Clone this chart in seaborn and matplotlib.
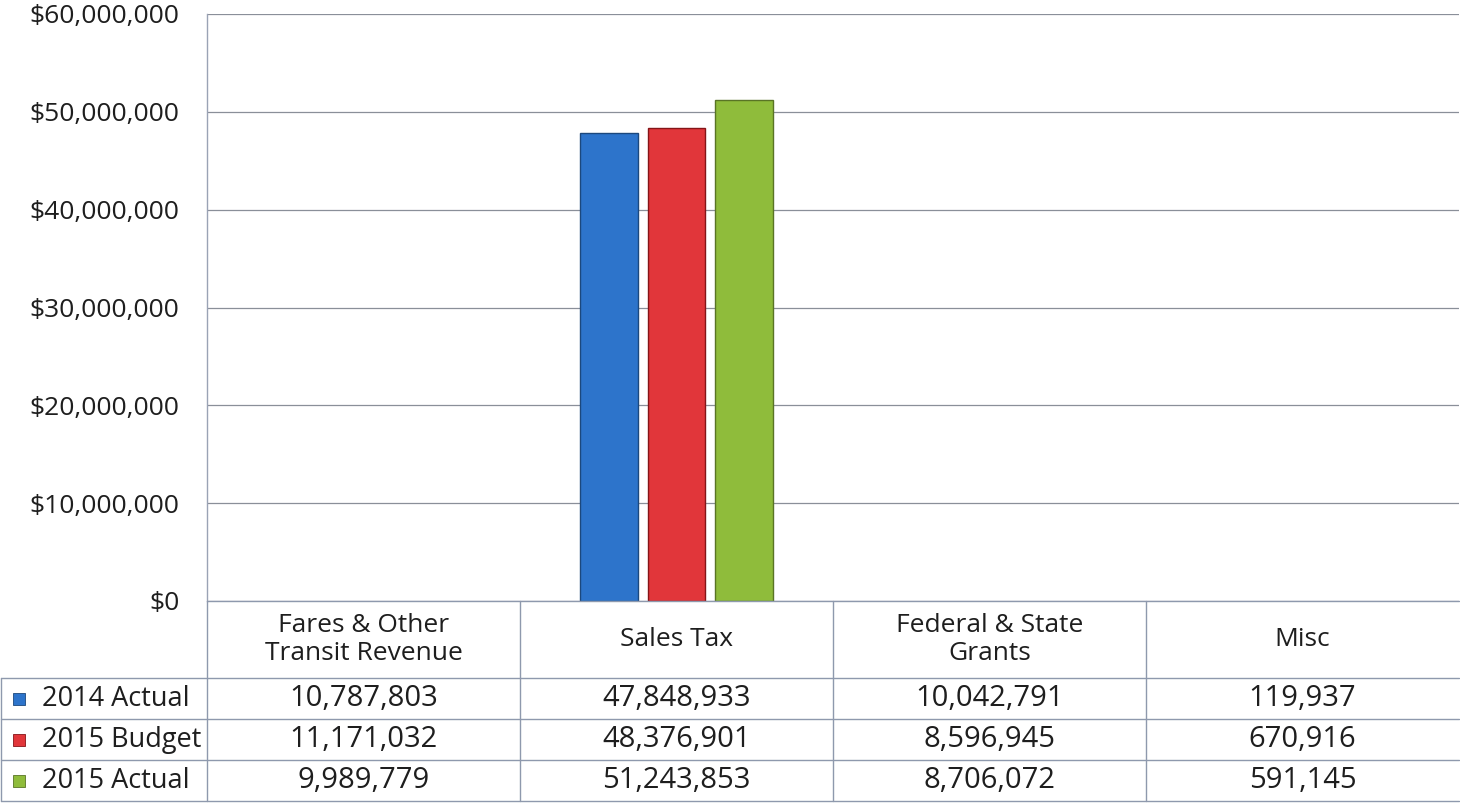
import matplotlib
matplotlib.use("Agg")
import matplotlib.pyplot as plt
import matplotlib.transforms as mtransforms
from matplotlib.lines import Line2D
from matplotlib.patches import Rectangle
import pandas as pd
import seaborn as sns

# Revenue sources and the three reporting series
categories = ["Fares & Other\nTransit Revenue", "Sales Tax", "Federal & State\nGrants", "Misc"]
series = ["2014 Actual", "2015 Budget", "2015 Actual"]
actual_2014 = [10787803, 47848933, 10042791, 119937]
budget_2015 = [11171032, 48376901, 8596945, 670916]
actual_2015 = [9989779, 51243853, 8706072, 591145]
charted_categories = ["Sales Tax"]
series_colors = ["#2D74CB", "#E1363A", "#8FBC3B"]
y_ticks = [0, 10000000, 20000000, 30000000, 40000000, 50000000, 60000000]

values = {"2014 Actual": actual_2014, "2015 Budget": budget_2015, "2015 Actual": actual_2015}
rows = []
for s in series:
    for c, v in zip(categories, values[s]):
        rows.append({"category": c, "series": s, "value": v})
df = pd.DataFrame(rows)
df_bars = df[df["category"].isin(charted_categories)]

sns.set_theme(style="white")
plt.rcParams["font.family"] = ["Open Sans", "DejaVu Sans"]
FS_TICK, FS_HEAD, FS_ROW, FS_NUM = 19, 19, 19.5, 21
TXT = "#1e1e1e"

W, H = 1460, 807
fig = plt.figure(figsize=(W / 100, H / 100), dpi=100)
top_px, zero_px, left_px, right_px = 14, 601, 207, 1459
ax = fig.add_axes([left_px / W, 1 - zero_px / H, (right_px - left_px) / W, (zero_px - top_px) / H])

sns.barplot(data=df_bars, x="category", y="value", hue="series", order=categories,
            hue_order=series, palette=series_colors, saturation=1, width=0.65, gap=0.15,
            legend=False, ax=ax, zorder=3)
for patch, col in zip(ax.patches, series_colors):
    patch.set_edgecolor(sns.set_hls_values(col, l=0.3))
    patch.set_linewidth(1.0)

ax.set_xlim(-0.5, len(categories) - 0.5)
ax.set_ylim(0, 60000000)
ax.set_yticks(y_ticks)
ax.set_yticklabels([f"${v:,.0f}" for v in y_ticks], fontsize=FS_TICK, color=TXT)
ax.tick_params(axis="y", length=0, pad=20)
ax.set_xticks([])
ax.set_xlabel("")
ax.set_ylabel("")
ax.yaxis.grid(True, color="#8a8f99", linewidth=0.9)
ax.set_axisbelow(True)
for side in ["top", "right", "bottom"]:
    ax.spines[side].set_visible(False)
ax.spines["left"].set_color("#9aa3b5")
ax.spines["left"].set_linewidth(1.0)

# Data table beneath the chart
line_col = "#8e99ad"
lw = 1.0
fy = lambda y: 1 - y / H
fx = lambda x: x / W
row_edges = [601, 678, 719, 760, 801]
blend = mtransforms.blended_transform_factory(ax.transData, fig.transFigure)

# horizontal rules
fig.add_artist(Line2D([fx(left_px), fx(right_px)], [fy(row_edges[0])] * 2, color=line_col, lw=lw))
for y in row_edges[1:]:
    fig.add_artist(Line2D([fx(1), fx(right_px)], [fy(y)] * 2, color=line_col, lw=lw))
# vertical rules
fig.add_artist(Line2D([fx(1), fx(1)], [fy(row_edges[1]), fy(row_edges[-1])], color=line_col, lw=lw))
for b in [i - 0.5 for i in range(len(categories))]:
    fig.add_artist(Line2D([b, b], [fy(row_edges[0]), fy(row_edges[-1])], color=line_col, lw=lw,
                          transform=blend))

hdr_y = fy((row_edges[0] + row_edges[1]) / 2)
for i, c in enumerate(categories):
    fig.text(i, hdr_y, c, transform=blend, linespacing=1.15, fontsize=FS_HEAD, color=TXT,
             ha="center", va="center")

for r, s in enumerate(series):
    yc = fy((row_edges[r + 1] + row_edges[r + 2]) / 2)
    sq = 12
    fig.add_artist(Rectangle((fx(13), yc - sq / 2 / H), sq / W, sq / H, transform=fig.transFigure,
                             facecolor=series_colors[r],
                             edgecolor=sns.set_hls_values(series_colors[r], l=0.3), lw=0.6))
    fig.text(fx(42), yc, s, ha="left", va="center", fontsize=FS_ROW, color=TXT)
    for i, v in enumerate(values[s]):
        fig.text(i, yc, f"{v:,.0f}", transform=blend, fontsize=FS_NUM, color=TXT,
                 ha="center", va="center")

fig.savefig("out.png", dpi=100, facecolor="white")
